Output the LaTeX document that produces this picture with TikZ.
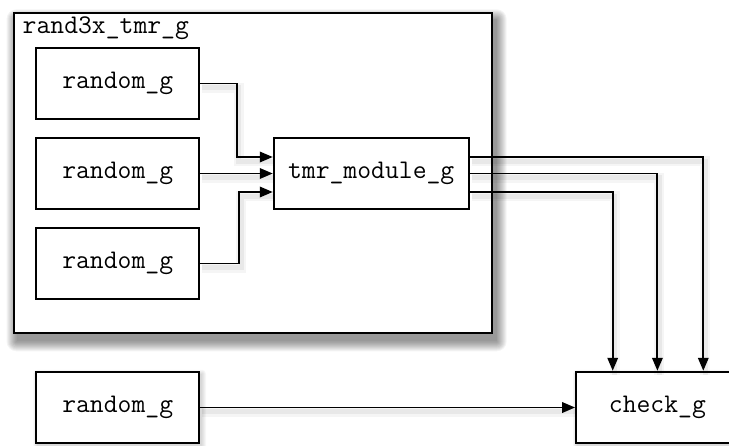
\documentclass[tikz,border=0pt]{standalone}
\usepackage{fontspec}
\usetikzlibrary{arrows.meta,calc}

\pgfdeclarelayer{bg}
\pgfsetlayers{bg,main}

\tikzset{
  codetext/.style={font=\ttfamily\fontsize{26.9}{30}\selectfont},
  blockbox/.style={codetext, draw=black, line width=1.9pt, fill=white,
    minimum width=162.7pt, minimum height=71.6pt, inner sep=0pt},
  groupbox/.style={draw=black, line width=2pt, fill=white, inner sep=0pt},
  wire/.style={line width=1.9pt, -{Triangle[length=13pt,width=10.5pt]},
    preaction={draw, black, opacity=0.04, line width=10pt, -,
      transform canvas={shift={(2pt,-4pt)}}},
    preaction={draw, black, opacity=0.05, line width=5pt, -,
      transform canvas={shift={(2pt,-4pt)}}}},
  softshadow/.style={fill=black, opacity=#1},
}

\begin{document}
\begin{tikzpicture}[x=1pt, y=-1pt]
  \useasboundingbox (0,0) rectangle (729,445);
  \clip (0,0) rectangle (729,445);
  \begin{pgfonlayer}{bg}
    \fill[white] (0,0) rectangle (729,445);
  \end{pgfonlayer}

  % enclosing group
  \node[groupbox, minimum width=478.2pt, minimum height=320pt] (grp) at (252.6,173.3) {};
  \node[codetext, inner sep=0pt, anchor=base west] (grplabel) at (22.5,33) {rand3x\_tmr\_g};

  % blocks inside the group
  \node[blockbox] (r1) at (117.7,83.5) {random\_g};
  \node[blockbox] (r2) at (117.7,173.5) {random\_g};
  \node[blockbox] (r3) at (117.7,263.5) {random\_g};
  \node[blockbox, minimum width=195pt] (tmr) at (371.2,173.5) {tmr\_module\_g};

  % blocks outside the group
  \node[blockbox] (r4) at (117.7,407.5) {random\_g};
  \node[blockbox] (chk) at (657.4,407.5) {check\_g};

  % inputs of the voter
  \draw[wire] (r1.east) -- ++(36.7,0) |- ([yshift=16.5pt]tmr.west);
  \draw[wire] (r2.east) -- (tmr.west);
  \draw[wire] (r3.east) -- ++(39.3,0) |- ([yshift=-18.5pt]tmr.west);

  % outputs of the voter into the checker
  \draw[wire] ([yshift=16.5pt]tmr.east) -| ([xshift=45.9pt]chk.north);
  \draw[wire] (tmr.east) -| (chk.north);
  \draw[wire] ([yshift=-18.5pt]tmr.east) -| ([xshift=-44.7pt]chk.north);

  % reference generator into the checker
  \draw[wire] (r4.east) -- (chk.west);

  % soft drop shadows behind the boxes
  \begin{pgfonlayer}{bg}
    \foreach \k in {0,1,...,10}
      \fill[softshadow=0.045, rounded corners=\k pt]
        ([shift={(4pt-\k pt,-7pt+\k pt)}]grp.north west)
        rectangle ([shift={(4pt+\k pt,-7pt-\k pt)}]grp.south east);
    \foreach \n in {r1,r2,r3,tmr,r4,chk}
      \foreach \k in {0,1,...,4}
        \fill[softshadow=0.03, rounded corners=\k pt]
          ([shift={(2pt-\k pt,-3pt+\k pt)}]\n.north west)
          rectangle ([shift={(2pt+\k pt,-3pt-\k pt)}]\n.south east);
  \end{pgfonlayer}
\end{tikzpicture}
\end{document}
